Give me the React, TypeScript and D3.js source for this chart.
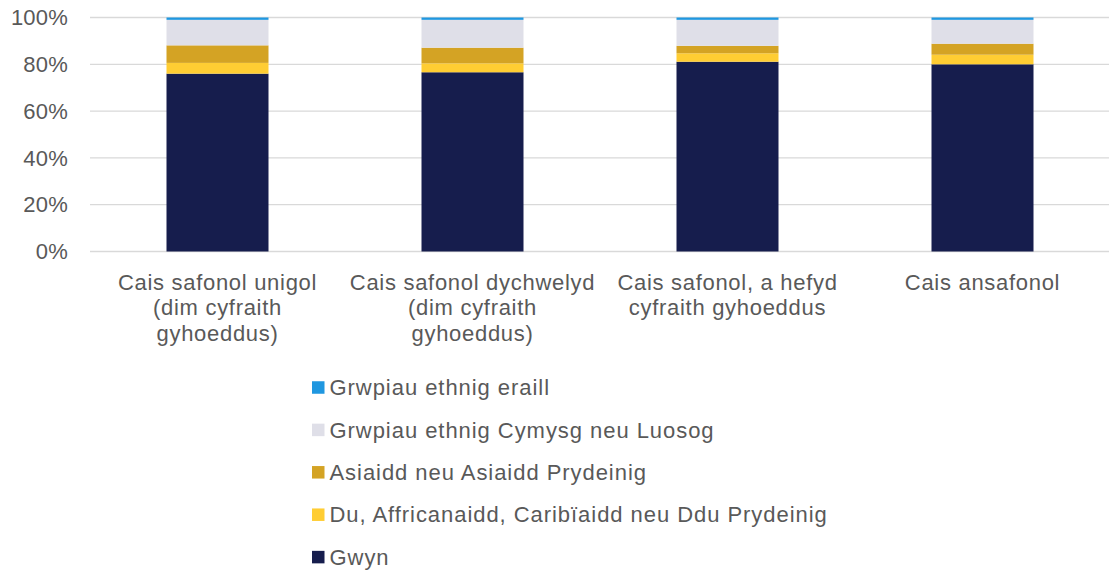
import React from "react";
import * as d3 from "d3";

const categories = [
  ["Cais safonol unigol", "(dim cyfraith", "gyhoeddus)"],
  ["Cais safonol dychwelyd", "(dim cyfraith", "gyhoeddus)"],
  ["Cais safonol, a hefyd", "cyfraith gyhoeddus"],
  ["Cais ansafonol"],
];
const seriesNames = [
  "Gwyn",
  "Du, Affricanaidd, Caribïaidd neu Ddu Prydeinig",
  "Asiaidd neu Asiaidd Prydeinig",
  "Grwpiau ethnig Cymysg neu Luosog",
  "Grwpiau ethnig eraill",
];
const gwyn = [76.0, 76.6, 81.1, 80.0];
const du = [4.6, 3.8, 3.6, 4.1];
const asiaidd = [7.5, 6.7, 3.2, 4.7];
const cymysg = [10.9, 11.9, 11.1, 10.2];
const eraill = [1.0, 1.0, 1.0, 1.0];
const colors = ["#161d4d", "#ffcd33", "#d4a324", "#dfdfe8", "#1f97e0"];
const yTicks = [0, 20, 40, 60, 80, 100];

export default function App() {
  const W = 1109, H = 574;
  const left = 90, right = 1110, top = 17.5, bottom = 251.5;
  const x = d3.scaleBand().domain(d3.range(categories.length).map(String)).range([left, right]).paddingInner(0.6).paddingOuter(0.3);
  const y = d3.scaleLinear().domain([0, 100]).range([bottom, top]);
  const rows = categories.map((_, i) => ({ i: String(i), s0: gwyn[i], s1: du[i], s2: asiaidd[i], s3: cymysg[i], s4: eraill[i] }));
  const stack = d3.stack<any>().keys(["s0", "s1", "s2", "s3", "s4"])(rows);
  const font = "Liberation Sans, Arial, sans-serif";
  const legendOrder = [4, 3, 2, 1, 0];
  return (
    <svg width={W} height={H} style={{ position: "absolute", left: 0, top: 0 }} fontFamily={font}>
      {yTicks.map((t) => (
        <g key={t}>
          <line x1={left} x2={right} y1={y(t)} y2={y(t)} stroke="#d9d9d9" strokeWidth={1.3} />
          <text x={68} y={y(t)} dy="0.35em" textAnchor="end" fontSize={22} fill="#595959" letterSpacing={0.2}>{t}%</text>
        </g>
      ))}
      {stack.map((layer, si) => (
        <g key={si} fill={colors[si]}>
          {layer.map((d, ci) => (
            <rect key={ci} x={x(String(ci))} width={x.bandwidth()} y={y(d[1])} height={y(d[0]) - y(d[1])} />
          ))}
        </g>
      ))}
      {categories.map((lines, ci) => (
        <text key={ci} x={(x(String(ci)) as number) + x.bandwidth() / 2} y={289.5} textAnchor="middle" fontSize={22} fill="#595959" letterSpacing={0.7}>
          {lines.map((l, li) => (
            <tspan key={li} x={(x(String(ci)) as number) + x.bandwidth() / 2} dy={li === 0 ? 0 : 25.5}>{l}</tspan>
          ))}
        </text>
      ))}
      {legendOrder.map((si, k) => (
        <g key={si} transform={`translate(312, ${387.5 + k * 42.4})`}>
          <rect x={0} y={-6.25} width={12.5} height={12.5} fill={colors[si]} />
          <text x={17.5} y={0} dy="0.35em" fontSize={22} fill="#595959" letterSpacing={0.95}>{seriesNames[si]}</text>
        </g>
      ))}
    </svg>
  );
}
